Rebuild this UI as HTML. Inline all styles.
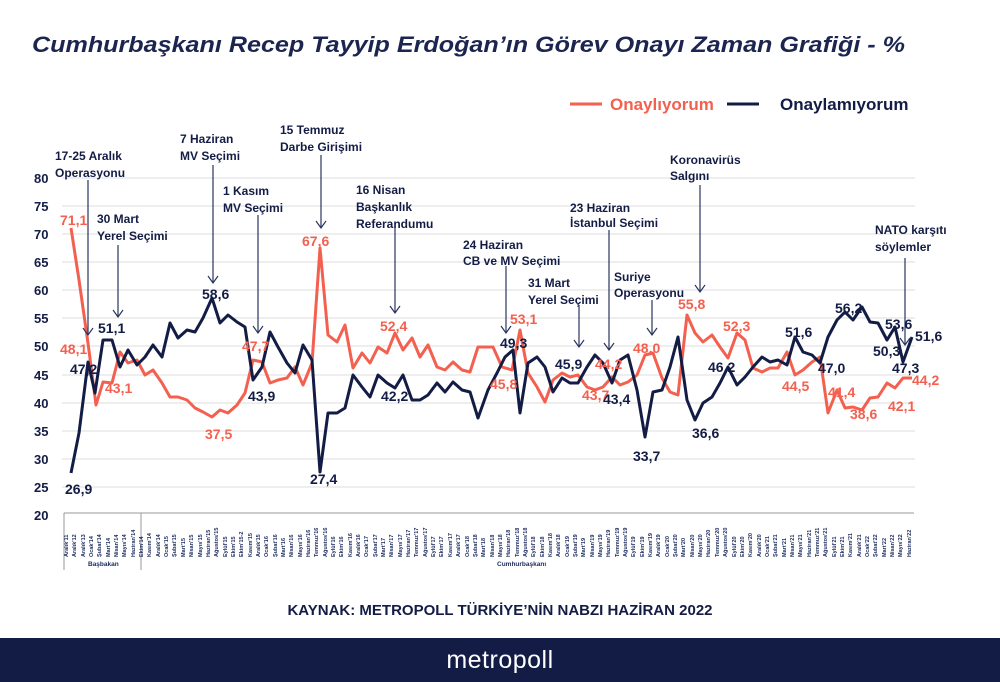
<!DOCTYPE html>
<html><head><meta charset="utf-8"><style>
body{margin:0;width:1000px;height:682px;background:#fff;overflow:hidden;position:relative;font-family:"Liberation Sans","DejaVu Sans",sans-serif}
svg{position:absolute;left:0;top:0}
.xl{position:absolute;left:64px;top:517px;width:850px;height:40px;display:flex;justify-content:space-between;overflow:hidden}
.xl span{writing-mode:vertical-rl;transform:rotate(180deg);font-size:5.5px;font-weight:bold;color:#1b2a5c;line-height:7px;white-space:nowrap}
.foot{position:absolute;left:0;top:638px;width:1000px;height:44px;background:#131c45;color:#fff;text-align:center;font-size:25px;line-height:44px;letter-spacing:0.5px}
</style></head><body>
<svg width="1000" height="682" viewBox="0 0 1000 682" font-family="Liberation Sans, DejaVu Sans, sans-serif">
<text x="32" y="52" font-size="22" font-weight="bold" font-style="italic" fill="#1b2550" textLength="873" lengthAdjust="spacingAndGlyphs">Cumhurbaşkanı Recep Tayyip Erdoğan’ın Görev Onayı Zaman Grafiği - %</text>
<line x1="570" y1="104" x2="602" y2="104" stroke="#f4604f" stroke-width="3"/>
<text x="610" y="110" font-size="17" font-weight="bold" fill="#f4604f">Onaylıyorum</text>
<line x1="727" y1="104" x2="759" y2="104" stroke="#131c45" stroke-width="3"/>
<text x="780" y="110" font-size="17" font-weight="bold" fill="#131c45">Onaylamıyorum</text>
<g stroke="#dcdcdc" stroke-width="1">
<line x1="62" y1="178" x2="915" y2="178"/><line x1="62" y1="206" x2="915" y2="206"/><line x1="62" y1="234" x2="915" y2="234"/><line x1="62" y1="262" x2="915" y2="262"/><line x1="62" y1="290" x2="915" y2="290"/><line x1="62" y1="318" x2="915" y2="318"/><line x1="62" y1="346" x2="915" y2="346"/><line x1="62" y1="375" x2="915" y2="375"/><line x1="62" y1="403" x2="915" y2="403"/><line x1="62" y1="431" x2="915" y2="431"/><line x1="62" y1="459" x2="915" y2="459"/><line x1="62" y1="487" x2="915" y2="487"/>
</g>
<g font-size="13" font-weight="bold" fill="#131c45">
<text x="34" y="183">80</text><text x="34" y="211">75</text><text x="34" y="239">70</text><text x="34" y="267">65</text><text x="34" y="295">60</text><text x="34" y="323">55</text><text x="34" y="351">50</text><text x="34" y="380">45</text><text x="34" y="408">40</text><text x="34" y="436">35</text><text x="34" y="464">30</text><text x="34" y="492">25</text><text x="34" y="520">20</text>
</g>
<g stroke="#999" stroke-width="1"><line x1="64" y1="513" x2="64" y2="570"/><line x1="141" y1="513" x2="141" y2="570"/><line x1="64" y1="513" x2="914" y2="513"/></g>
<text x="88" y="566" font-size="6.5" font-weight="bold" fill="#1b2a5c">Başbakan</text>
<text x="497" y="566" font-size="6.5" font-weight="bold" fill="#1b2a5c">Cumhurbaşkanı</text>
<polyline fill="none" stroke="#f4604f" stroke-width="3" stroke-linejoin="round" points="71,228 79,280 88,343 96,405 103,382 112,383 120,352 128,363 137,360 145,375 153,370 162,383 170,397 178,397 187,400 195,408 203,412 212,417 220,410 228,413 237,405 245,393 253,360 262,362 270,383 278,380 287,378 295,367 303,385 312,363 320,248 328,335 337,342 345,325 353,368 362,353 370,363 378,347 387,353 395,333 403,350 412,338 420,357 428,345 437,367 445,370 453,362 462,370 470,372 478,347 493,347 502,367 512,370 520,330 528,373 537,387 545,402 553,380 562,373 570,377 578,375 587,387 595,390 603,387 612,377 620,385 628,382 637,375 645,355 653,353 662,378 670,392 678,395 687,315 695,333 703,342 712,335 720,347 728,358 737,333 745,340 753,368 762,372 770,368 778,368 787,352 795,375 803,370 812,362 820,357 828,413 837,390 845,408 853,407 862,410 870,398 878,397 887,383 895,388 903,378 912,378"/>
<polyline fill="none" stroke="#131c45" stroke-width="3" stroke-linejoin="round" points="71,473 79,433 88,362 95,393 103,340 112,340 120,367 128,350 137,365 145,357 153,345 162,357 170,323 178,338 187,330 195,332 203,318 212,298 220,323 228,315 237,322 245,327 253,380 262,367 270,332 278,347 287,363 295,373 303,345 312,360 320,472 328,413 337,413 345,408 353,375 362,387 370,397 378,375 387,383 395,388 403,375 412,400 420,400 428,395 437,383 445,392 453,382 462,390 470,392 478,418 488,390 497,373 505,357 513,350 520,413 528,363 537,357 545,367 553,392 562,378 570,383 578,383 587,367 595,355 603,363 612,383 620,360 628,355 637,390 645,437 653,392 662,390 670,367 678,337 687,400 695,420 703,403 712,397 720,383 728,367 737,385 745,377 753,367 762,357 770,362 778,360 787,365 795,337 803,352 812,355 820,363 828,337 837,320 845,312 853,320 862,307 870,322 878,323 887,340 895,327 903,362 912,337"/>
<g stroke="#2a3560" stroke-width="1.2" fill="none">
<path d="M88 180V335M83 328l5 7 5-7"/><path d="M118 245V317M113 310l5 7 5-7"/><path d="M213 165V283M208 276l5 7 5-7"/><path d="M258 215V333M253 326l5 7 5-7"/><path d="M321 155V228M316 221l5 7 5-7"/><path d="M395 228V313M390 306l5 7 5-7"/><path d="M506 266V333M501 326l5 7 5-7"/><path d="M579 305V347M574 340l5 7 5-7"/><path d="M609 230V350M604 343l5 7 5-7"/><path d="M652 300V335M647 328l5 7 5-7"/><path d="M700 185V292M695 285l5 7 5-7"/><path d="M905 258V345M900 338l5 7 5-7"/>
</g>
<g font-size="12" font-weight="bold" fill="#131c45">
<text x="55" y="160">17-25 Aralık</text><text x="55" y="177">Operasyonu</text>
<text x="97" y="223">30 Mart</text><text x="97" y="240">Yerel Seçimi</text>
<text x="180" y="143">7 Haziran</text><text x="180" y="160">MV Seçimi</text>
<text x="223" y="195">1 Kasım</text><text x="223" y="212">MV Seçimi</text>
<text x="280" y="134">15 Temmuz</text><text x="280" y="151">Darbe Girişimi</text>
<text x="356" y="194">16 Nisan</text><text x="356" y="211">Başkanlık</text><text x="356" y="228">Referandumu</text>
<text x="463" y="249">24 Haziran</text><text x="463" y="265">CB  ve MV Seçimi</text>
<text x="528" y="287">31 Mart</text><text x="528" y="304">Yerel Seçimi</text>
<text x="570" y="212">23 Haziran</text><text x="570" y="227">İstanbul Seçimi</text>
<text x="614" y="281">Suriye</text><text x="614" y="297">Operasyonu</text>
<text x="670" y="164">Koronavirüs</text><text x="670" y="180">Salgını</text>
<text x="875" y="234">NATO karşıtı</text><text x="875" y="251">söylemler</text>
</g>
<g font-size="14" font-weight="bold" fill="#f4604f">
<text x="60" y="225">71,1</text><text x="60" y="354">48,1</text><text x="105" y="393">43,1</text><text x="205" y="439">37,5</text><text x="242" y="351">47,7</text><text x="302" y="246">67,6</text><text x="380" y="331">52,4</text><text x="490" y="389">45,8</text><text x="510" y="324">53,1</text><text x="582" y="400">43,7</text><text x="595" y="369">44,2</text><text x="633" y="353">48,0</text><text x="678" y="309">55,8</text><text x="723" y="331">52,3</text><text x="782" y="391">44,5</text><text x="828" y="397">41,4</text><text x="850" y="419">38,6</text><text x="888" y="411">42,1</text><text x="912" y="385">44,2</text>
</g>
<g font-size="14" font-weight="bold" fill="#131c45">
<text x="65" y="494">26,9</text><text x="70" y="374">47,2</text><text x="98" y="333">51,1</text><text x="202" y="299">58,6</text><text x="248" y="401">43,9</text><text x="310" y="484">27,4</text><text x="381" y="401">42,2</text><text x="500" y="348">49,3</text><text x="555" y="369">45,9</text><text x="603" y="404">43,4</text><text x="633" y="461">33,7</text><text x="708" y="372">46,2</text><text x="692" y="438">36,6</text><text x="785" y="337">51,6</text><text x="818" y="373">47,0</text><text x="835" y="313">56,2</text><text x="885" y="329">53,6</text><text x="873" y="356">50,3</text><text x="892" y="373">47,3</text><text x="915" y="341">51,6</text>
</g>
<text x="500" y="615" font-size="15" font-weight="bold" fill="#131c45" text-anchor="middle">KAYNAK: METROPOLL TÜRKİYE’NİN NABZI HAZİRAN 2022</text>
</svg>
<div class="xl">
<span>Aralık'11</span><span>Aralık'12</span><span>Aralık'13</span><span>Ocak'14</span><span>Şubat'14</span><span>Mart'14</span><span>Nisan'14</span><span>Mayıs'14</span><span>Haziran'14</span><span>Ekim'14</span><span>Kasım'14</span><span>Aralık'14</span><span>Ocak'15</span><span>Şubat'15</span><span>Mart'15</span><span>Nisan'15</span><span>Mayıs'15</span><span>Haziran'15</span><span>Ağustos'15</span><span>Eylül'15</span><span>Ekim'15</span><span>Ekim'15-2</span><span>Kasım'15</span><span>Aralık'15</span><span>Ocak'16</span><span>Şubat'16</span><span>Mart'16</span><span>Nisan'16</span><span>Mayıs'16</span><span>Haziran'16</span><span>Temmuz'16</span><span>Ağustos'16</span><span>Eylül'16</span><span>Ekim'16</span><span>Kasım'16</span><span>Aralık'16</span><span>Ocak'17</span><span>Şubat'17</span><span>Mart'17</span><span>Nisan'17</span><span>Mayıs'17</span><span>Haziran'17</span><span>Temmuz'17</span><span>Ağustos'17</span><span>Eylül'17</span><span>Ekim'17</span><span>Kasım'17</span><span>Aralık'17</span><span>Ocak'18</span><span>Şubat'18</span><span>Mart'18</span><span>Nisan'18</span><span>Mayıs'18</span><span>Haziran'18</span><span>Temmuz'18</span><span>Ağustos'18</span><span>Eylül'18</span><span>Ekim'18</span><span>Kasım'18</span><span>Aralık'18</span><span>Ocak'19</span><span>Şubat'19</span><span>Mart'19</span><span>Nisan'19</span><span>Mayıs'19</span><span>Haziran'19</span><span>Temmuz'19</span><span>Ağustos'19</span><span>Eylül'19</span><span>Ekim'19</span><span>Kasım'19</span><span>Aralık'19</span><span>Ocak'20</span><span>Şubat'20</span><span>Mart'20</span><span>Nisan'20</span><span>Mayıs'20</span><span>Haziran'20</span><span>Temmuz'20</span><span>Ağustos'20</span><span>Eylül'20</span><span>Ekim'20</span><span>Kasım'20</span><span>Aralık'20</span><span>Ocak'21</span><span>Şubat'21</span><span>Mart'21</span><span>Nisan'21</span><span>Mayıs'21</span><span>Haziran'21</span><span>Temmuz'21</span><span>Ağustos'21</span><span>Eylül'21</span><span>Ekim'21</span><span>Kasım'21</span><span>Aralık'21</span><span>Ocak'22</span><span>Şubat'22</span><span>Mart'22</span><span>Nisan'22</span><span>Mayıs'22</span><span>Haziran'22</span>
</div>
<div class="foot">metropoll</div>
</body></html>
